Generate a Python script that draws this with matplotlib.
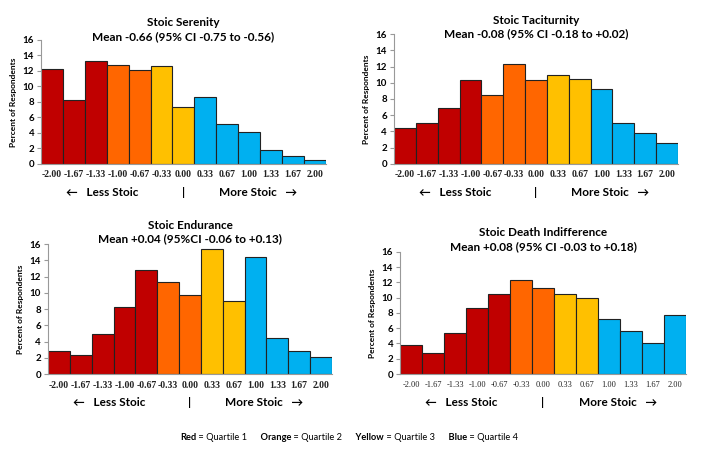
import matplotlib.pyplot as plt
import numpy as np

plt.rcParams['font.family'] = ['Lato', 'DejaVu Sans']

scores = ["-2.00", "-1.67", "-1.33", "-1.00", "-0.67", "-0.33", "0.00",
          "0.33", "0.67", "1.00", "1.33", "1.67", "2.00"]

serenity = [12.3, 8.2, 13.3, 12.8, 12.1, 12.6, 7.4, 8.7, 5.1, 4.1, 1.8, 1.0, 0.5]
serenity_q = [1, 1, 1, 2, 2, 3, 3, 4, 4, 4, 4, 4, 4]

taciturnity = [4.4, 5.1, 6.9, 10.3, 8.5, 12.3, 10.3, 11.0, 10.5, 9.2, 5.1, 3.8, 2.6]
taciturnity_q = [1, 1, 1, 1, 2, 2, 2, 3, 3, 4, 4, 4, 4]

endurance = [2.8, 2.3, 4.9, 8.2, 12.8, 11.3, 9.7, 15.4, 9.0, 14.4, 4.4, 2.8, 2.1]
endurance_q = [1, 1, 1, 1, 1, 2, 2, 3, 3, 4, 4, 4, 4]

death = [3.8, 2.8, 5.4, 8.7, 10.5, 12.3, 11.3, 10.5, 10.0, 7.2, 5.6, 4.1, 7.7]
death_q = [1, 1, 1, 1, 1, 2, 2, 3, 3, 4, 4, 4, 4]

quartile_colors = {1: "#C00000", 2: "#FF6600", 3: "#FFC000", 4: "#00B0F0"}

fig = plt.figure(figsize=(7.08, 4.54), dpi=100)


def panel(rect, values, quart, title, subtitle, title_y, tick_font, tick_weight):
	ax = fig.add_axes(rect)
	x = np.arange(len(values))
	cols = [quartile_colors[q] for q in quart]
	ax.bar(x, values, width=1.0, color=cols, edgecolor="#222222", linewidth=0.8)
	ax.set_xlim(-0.5, len(values) - 0.5)
	ax.set_ylim(0, 16)
	ax.set_yticks(range(0, 17, 2))
	ax.set_xticks([])
	for s in ["top", "right"]:
		ax.spines[s].set_visible(False)
	ax.spines["left"].set_color("#999999")
	ax.spines["bottom"].set_color("#999999")
	ax.tick_params(axis="y", length=3, color="#999999", labelsize=7, pad=2)
	for lab in ax.get_yticklabels():
		lab.set_fontweight("bold")
	ax.set_ylabel("Percent of Respondents", fontsize=6, fontweight="bold", labelpad=4)
	# keep the label rows at the same pixel distance below each panel
	h = rect[3]
	for i, s in enumerate(scores):
		ax.text(i, -0.85 * 0.273 / h, s, ha="center", va="top", fontsize=tick_font,
			family="Liberation Serif", fontweight=tick_weight, color="#222222")
	yrow = -3.0 * 0.273 / h
	ax.text(2.3, yrow, "\u2190   Less Stoic", ha="center", va="top", fontsize=8.5,
		fontweight="bold")
	ax.text(6.0, yrow, "|", ha="center", va="top", fontsize=8.5, fontweight="bold")
	ax.text(9.4, yrow, "More Stoic   \u2192", ha="center", va="top", fontsize=8.5,
		fontweight="bold")
	cx = rect[0] + rect[2] * 0.5
	fig.text(cx, title_y, title + "\n" + subtitle, ha="center", va="top",
		fontsize=8.5, fontweight="bold", linespacing=1.3)
	return ax


panel([0.058, 0.639, 0.402, 0.273], serenity, serenity_q, "Stoic Serenity",
	"Mean -0.66 (95% CI -0.75 to -0.56)", 0.962, 7, "bold")
panel([0.5565, 0.639, 0.401, 0.286], taciturnity, taciturnity_q, "Stoic Taciturnity",
	"Mean -0.08 (95% CI -0.18 to +0.02)", 0.967, 7, "bold")
panel([0.0678, 0.1762, 0.401, 0.2863], endurance, endurance_q, "Stoic Endurance",
	"Mean +0.04 (95%CI -0.06 to +0.13)", 0.516, 7, "bold")
panel([0.565, 0.1762, 0.404, 0.269], death, death_q, "Stoic Death Indifference",
	"Mean +0.08 (95% CI -0.03 to +0.18)", 0.50, 6, "normal")

legend_names = ["Red", "Orange", "Yellow", "Blue"]
legend_labels = [" = Quartile 1", " = Quartile 2", " = Quartile 3", " = Quartile 4"]
prev = None
for name, lab in zip(legend_names, legend_labels):
	if prev is None:
		t = fig.text(0.254, 0.03, name, fontsize=6.7, fontweight="bold", va="baseline")
	else:
		t = plt.annotate("      " + name, xy=(1, 0), xycoords=prev, fontsize=6.7,
			fontweight="bold", va="bottom", annotation_clip=False)
	prev = plt.annotate(lab, xy=(1, 0), xycoords=t, fontsize=6.7, va="bottom",
		annotation_clip=False)

fig.savefig("out.png", dpi=100)
